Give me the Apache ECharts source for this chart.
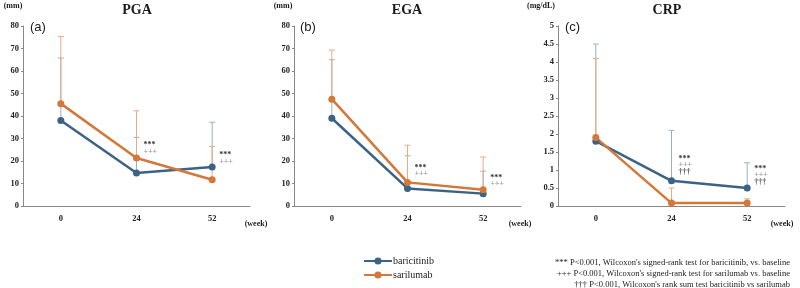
<!DOCTYPE html>
<html>
<head>
<meta charset="utf-8">
<script src="https://cdn.jsdelivr.net/npm/echarts@6/dist/echarts.min.js"></script>
<style>
  html, body { margin: 0; padding: 0; background: #fff; }
  #chart { width: 800px; height: 288px; }
</style>
</head>
<body>
<div id="chart"></div>
<script>
// week labels (x categories)
const weeks = ['0', '24', '52'];

// PGA (mm)
const pgaBari = [38, 14.7, 17.3];
const pgaBariUp = [65.8, 30.5, 37.2];
const pgaSari = [45.5, 21.3, 11.7];
const pgaSariUp = [75.3, 42.3, 26.5];

// EGA (mm)
const egaBari = [39, 7.8, 5.5];
const egaBariUp = [65, 22.3, 15.5];
const egaSari = [47.5, 10.5, 7.2];
const egaSariUp = [69.3, 27, 21.8];

// CRP (mg/dL)
const crpBari = [1.8, 0.7, 0.5];
const crpBariUp = [4.5, 2.1, 1.2];
const crpSari = [1.9, 0.08, 0.08];
const crpSariUp = [4.1, 0.5, 0.2];

// significance marks: [week index, y value, text, kind]
const pgaSig = [[1, 27.1, '***', 0], [1, 24, '+++', 1], [2, 22.7, '***', 0], [2, 19.6, '+++', 1]];
const egaSig = [[1, 16.9, '***', 0], [1, 14.2, '+++', 1], [2, 12.4, '***', 0], [2, 9.8, '+++', 1]];
const crpSig = [[1, 1.31, '***', 0], [1, 1.14, '+++', 1], [1, 0.94, '†††', 2],
                [2, 1.03, '***', 0], [2, 0.86, '+++', 1], [2, 0.67, '†††', 2]];

const BLUE = '#3b6386';
const ORANGE = '#d4783a';
const BLUE_ERR = '#9db0c1';
const ORANGE_ERR = '#e9ab80';
const SIG_COLORS = ['#333', '#999', '#555'];
const SERIF = '"Liberation Serif", "DejaVu Serif", serif';

const chart = echarts.init(document.getElementById('chart'), null, { renderer: 'canvas' });

const grids = [
  { left: 23, top: 26, width: 227, height: 180 },
  { left: 294, top: 26, width: 227, height: 180 },
  { left: 558, top: 26, width: 227, height: 180 }
];

function xAxis(i) {
  return {
    type: 'category', gridIndex: i, data: weeks,
    axisLine: { lineStyle: { color: '#888', width: 1 } },
    axisTick: { alignWithLabel: true, length: 3, lineStyle: { color: '#888' } },
    axisLabel: { fontFamily: SERIF, fontWeight: 'bold', fontSize: 8.5, color: '#222', margin: 8 }
  };
}

function yAxis(i, max, interval) {
  return {
    type: 'value', gridIndex: i, min: 0, max: max, interval: interval,
    splitLine: { show: false },
    axisLine: { show: true, lineStyle: { color: '#888', width: 1 } },
    axisTick: { show: true, length: 2, lineStyle: { color: '#888' } },
    axisLabel: { fontFamily: SERIF, fontWeight: 'bold', fontSize: 8.5, color: '#222', margin: 4 }
  };
}

function errSeries(i, mean, up, color) {
  return {
    type: 'custom', xAxisIndex: i, yAxisIndex: i, z: 1, silent: true,
    data: mean.map((m, k) => [k, m, up[k]]),
    renderItem: function (params, api) {
      const p0 = api.coord([api.value(0), api.value(1)]);
      const p1 = api.coord([api.value(0), api.value(2)]);
      return {
        type: 'group',
        children: [
          { type: 'line', shape: { x1: p0[0], y1: p0[1], x2: p1[0], y2: p1[1] },
            style: { stroke: color, lineWidth: 1 } },
          { type: 'line', shape: { x1: p1[0] - 3, y1: p1[1], x2: p1[0] + 3, y2: p1[1] },
            style: { stroke: color, lineWidth: 1 } }
        ]
      };
    }
  };
}

function lineSeries(i, name, vals, color) {
  return {
    type: 'line', name: name, xAxisIndex: i, yAxisIndex: i, z: 3,
    data: vals, symbol: 'circle', symbolSize: 7,
    lineStyle: { color: color, width: 2.5 },
    itemStyle: { color: color }
  };
}

function sigSeries(i, marks) {
  return {
    type: 'custom', xAxisIndex: i, yAxisIndex: i, z: 4, silent: true,
    data: marks,
    renderItem: function (params, api) {
      const p = api.coord([api.value(0), api.value(1)]);
      const m = marks[params.dataIndex];
      return {
        type: 'text',
        style: {
          x: p[0] + 7, y: p[1], text: m[2],
          fill: SIG_COLORS[m[3]], font: 'bold 8px ' + SERIF,
          align: 'left', verticalAlign: 'middle'
        }
      };
    }
  };
}

function label(x, y, text, font, align) {
  return { type: 'text', x: x, y: y,
    style: { text: text, font: font, fill: '#1a1a1a', align: align || 'center', verticalAlign: 'middle' } };
}

const TITLE_FONT = 'bold 14px ' + SERIF;
const UNIT_FONT = 'bold 8px ' + SERIF;
const PANEL_FONT = '13px "Liberation Sans", Arial, sans-serif';

const option = {
  animation: false,
  backgroundColor: '#fff',
  grid: grids,
  xAxis: [xAxis(0), xAxis(1), xAxis(2)],
  yAxis: [yAxis(0, 80, 10), yAxis(1, 80, 10), yAxis(2, 5, 0.5)],
  legend: {
    orient: 'vertical', left: 363, top: 256, itemGap: 4, padding: 0,
    itemWidth: 28, itemHeight: 9,
    data: ['baricitinib', 'sarilumab'],
    textStyle: { fontFamily: SERIF, fontSize: 10, color: '#222', padding: [0, 0, 0, -4] }
  },
  series: [
    errSeries(0, pgaBari, pgaBariUp, BLUE_ERR),
    errSeries(0, pgaSari, pgaSariUp, ORANGE_ERR),
    errSeries(1, egaBari, egaBariUp, BLUE_ERR),
    errSeries(1, egaSari, egaSariUp, ORANGE_ERR),
    errSeries(2, crpBari, crpBariUp, BLUE_ERR),
    errSeries(2, crpSari, crpSariUp, ORANGE_ERR),
    lineSeries(0, 'baricitinib', pgaBari, BLUE),
    lineSeries(0, 'sarilumab', pgaSari, ORANGE),
    lineSeries(1, 'baricitinib', egaBari, BLUE),
    lineSeries(1, 'sarilumab', egaSari, ORANGE),
    lineSeries(2, 'baricitinib', crpBari, BLUE),
    lineSeries(2, 'sarilumab', crpSari, ORANGE),
    sigSeries(0, pgaSig),
    sigSeries(1, egaSig),
    sigSeries(2, crpSig)
  ],
  graphic: [
    label(137, 10, 'PGA', TITLE_FONT),
    label(407, 10, 'EGA', TITLE_FONT),
    label(667, 10, 'CRP', TITLE_FONT),
    label(13, 6, '(mm)', UNIT_FONT),
    label(283, 6, '(mm)', UNIT_FONT),
    label(541, 6, '(mg/dL)', UNIT_FONT),
    label(30, 27, '(a)', PANEL_FONT, 'left'),
    label(300, 27, '(b)', PANEL_FONT, 'left'),
    label(565, 27, '(c)', PANEL_FONT, 'left'),
    label(256, 224, '(week)', UNIT_FONT),
    label(520, 224, '(week)', UNIT_FONT),
    label(782, 224, '(week)', UNIT_FONT),
    { type: 'text', x: 790, y: 274, style: {
        text: "*** P<0.001, Wilcoxon's signed-rank test for baricitinib, vs. baseline\n" +
              "+++ P<0.001, Wilcoxon's signed-rank test for sarilumab vs. baseline\n" +
              "††† P<0.001, Wilcoxon's rank sum test baricitinib vs sarilumab",
        font: '8.5px ' + SERIF, fill: '#222', align: 'right', verticalAlign: 'middle', lineHeight: 11 } }
  ]
};

chart.setOption(option);
</script>
</body>
</html>
